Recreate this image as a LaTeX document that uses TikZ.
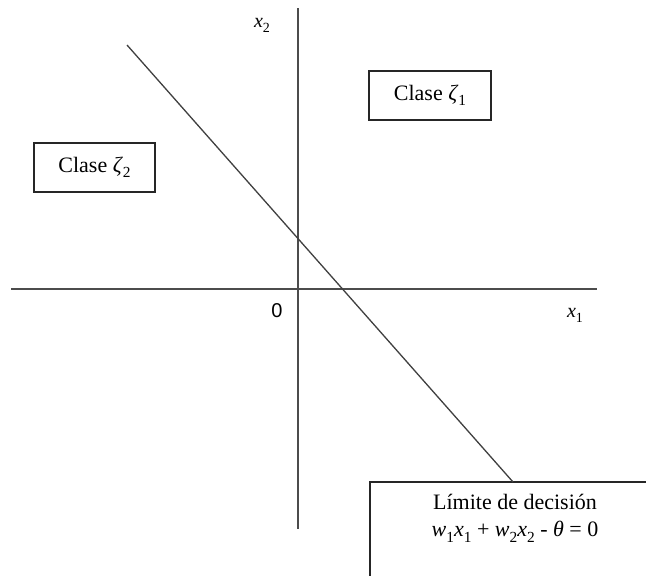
\documentclass[tikz,border=0pt]{standalone}
\usepackage{fontspec}
\setmainfont{Liberation Serif}
\newfontfamily\arialfont{Liberation Sans}
\newcommand{\vsub}[2]{\textit{#1}\raisebox{-0.25em}{\scalebox{0.7}{#2}}}
\begin{document}
\begin{tikzpicture}[x=1pt,y=-1pt,
  axis/.style={draw=black!70,line width=1.8pt},
  bound/.style={draw=black!75,line width=1.3pt},
  classbox/.style={draw=black!85,line width=1.3pt,font=\fontsize{22}{26}\selectfont},
  lbl/.style={font=\fontsize{20}{24}\selectfont}]
\useasboundingbox (0,0) rectangle (646,576);
\clip (0,0) rectangle (646,576);
\fill[white] (0,0) rectangle (646,576);
% axes
\coordinate (xl) at (11,289);
\coordinate (xr) at (597,289);
\coordinate (yt) at (298,8);
\coordinate (yb) at (298,529);
\draw[axis] (xl) -- (xr);
\draw[axis] (yt) -- (yb);
% decision boundary box
\draw[classbox] (370,482) rectangle (680,600);
\node[font=\fontsize{22}{27}\selectfont,align=center,anchor=north] (dec) at (515,491)
  {Límite de decisión\\ \vsub{w}{1}\vsub{x}{1} + \vsub{w}{2}\vsub{x}{2} - \textit{θ} = 0};
\coordinate (lt) at (127,45);
\coordinate (lb) at (513,482);
\draw[bound] (lt) -- (lb);
% class boxes
\node[classbox,minimum width=122pt,minimum height=49pt,inner sep=0pt] (c1) at (430,95.5) {Clase \vsub{ζ}{1}};
\node[classbox,minimum width=121pt,minimum height=49pt,inner sep=0pt] (c2) at (94.5,167.5) {Clase \vsub{ζ}{2}};
% labels
\node[lbl] (x2) at (262,25) {\vsub{x}{2}};
\node[font=\arialfont\fontsize{20}{24}\selectfont] (o) at (277,311) {0};
\node[lbl] (x1) at (575,315) {\vsub{x}{1}};
\end{tikzpicture}
\end{document}
